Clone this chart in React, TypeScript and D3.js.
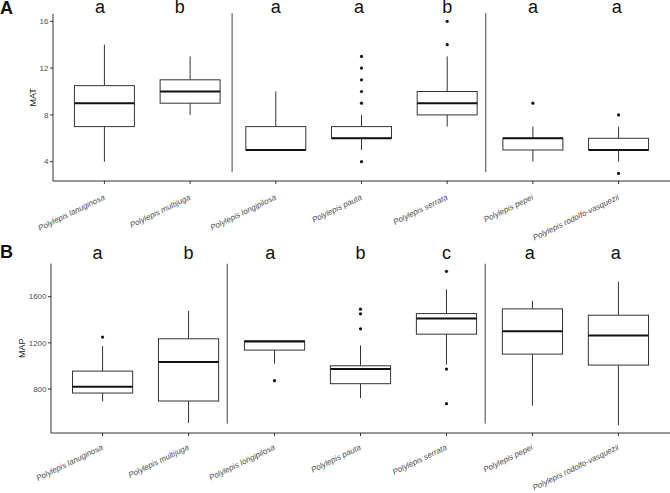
import React from "react";
import * as d3 from "d3";

const species = [
  "Polylepis lanuginosa",
  "Polylepis multijuga",
  "Polylepis longipilosa",
  "Polylepis pauta",
  "Polylepis serrata",
  "Polylepis pepei",
  "Polylepis rodolfo-vasquezii",
];

// Panel A: MAT
const matLow = [4, 8, 5, 5, 7, 4, 4];
const matQ1 = [7, 9, 5, 6, 8, 5, 5];
const matMed = [9, 10, 5, 6, 9, 6, 5];
const matQ3 = [10.5, 11, 7, 7, 10, 6, 6];
const matHigh = [14, 13, 10, 8, 13, 7, 7];
const matOut = [[], [], [], [4, 9, 10, 11, 12, 13], [14, 16], [9], [3, 8]];
const matLetters = ["a", "b", "a", "a", "b", "a", "a"];
const matLetterX = [0.95, 1.88, 3, 3.97, 5, 6, 6.98];
const matTicks = [4, 8, 12, 16];
const matDomain = [2.35, 16.65];
const matSeps = [2.49, 5.45];
const matSepY = [3.1, 16.7];

// Panel B: MAP
const mapLow = [693, 506, 1019, 722, 1010, 656, 486];
const mapQ1 = [765, 696, 1137, 846, 1275, 1102, 1007];
const mapMed = [820, 1033, 1212, 973, 1410, 1301, 1263];
const mapQ3 = [955, 1235, 1217, 1001, 1453, 1494, 1439];
const mapHigh = [1171, 1476, 1217, 1177, 1663, 1563, 1730];
const mapOut = [[1250], [], [872], [1321, 1451, 1491], [673, 973, 1819], [], []];
const mapLetters = ["a", "b", "a", "b", "c", "a", "a"];
const mapLetterX = [0.94, 2, 2.95, 4, 5, 5.97, 6.97];
const mapTicks = [800, 1200, 1600];
const mapDomain = [419, 1886];
const mapSeps = [2.45, 5.45];
const mapSepY = [500, 1885];

const W = 670;
const H = 493;
const FONT = "Liberation Sans, Arial, Helvetica, sans-serif";

type PanelProps = {
  tag: string;
  title: string;
  left: number;
  top: number;
  bottom: number;
  domain: number[];
  ticks: number[];
  low: number[];
  q1: number[];
  med: number[];
  q3: number[];
  high: number[];
  out: number[][];
  letters: string[];
  letterX: number[];
  letterY: number;
  tagY: number;
  seps: number[];
  sepY: number[];
  titleX: number;
  labelDy: number;
};

function Panel(p: PanelProps) {
  const x = d3.scaleLinear().domain([0.4, 7.6]).range([p.left, W]);
  const y = d3.scaleLinear().domain(p.domain).range([p.bottom, p.top]);
  const bw = 0.35;
  const boxStroke = "#333333";
  return (
    <g>
      {p.seps.map((s, i) => (
        <line key={"s" + i} x1={x(s)} x2={x(s)} y1={y(p.sepY[0])} y2={y(p.sepY[1])} stroke="#444" strokeWidth={1} />
      ))}
      {species.map((sp, i) => {
        const c = x(i + 1);
        const l = x(i + 1 - bw);
        const r = x(i + 1 + bw);
        return (
          <g key={sp}>
            <line x1={c} x2={c} y1={y(p.q3[i])} y2={y(p.high[i])} stroke={boxStroke} strokeWidth={1} />
            <line x1={c} x2={c} y1={y(p.q1[i])} y2={y(p.low[i])} stroke={boxStroke} strokeWidth={1} />
            <rect x={l} y={y(p.q3[i])} width={r - l} height={y(p.q1[i]) - y(p.q3[i])} fill="white" stroke={boxStroke} strokeWidth={1} />
            <line x1={l} x2={r} y1={y(p.med[i])} y2={y(p.med[i])} stroke="#111" strokeWidth={2} />
            {p.out[i].map((v, j) => (
              <circle key={j} cx={c} cy={y(v)} r={1.6} fill="#111" />
            ))}
          </g>
        );
      })}
      <line x1={p.left} x2={p.left} y1={p.top} y2={p.bottom} stroke="#333" strokeWidth={1} />
      <line x1={p.left} x2={W} y1={p.bottom} y2={p.bottom} stroke="#333" strokeWidth={1} />
      {p.ticks.map((t) => (
        <g key={t}>
          <line x1={p.left - 3} x2={p.left} y1={y(t)} y2={y(t)} stroke="#333" />
          <text x={p.left - 4.5} y={y(t)} dy="0.35em" textAnchor="end" fontSize={8} fill="#4d4d4d" fontFamily={FONT}>
            {t}
          </text>
        </g>
      ))}
      {species.map((sp, i) => (
        <g key={"xt" + i}>
          <line x1={x(i + 1)} x2={x(i + 1)} y1={p.bottom} y2={p.bottom + 3} stroke="#333" />
          <text
            transform={`translate(${x(i + 1) + 1},${p.bottom + p.labelDy}) rotate(-26)`}
            textAnchor="end"
            fontSize={8}
            fontStyle="italic"
            fill="#4d4d4d"
            fontFamily={FONT}
          >
            {sp}
          </text>
        </g>
      ))}
      <text
        transform={`translate(${p.titleX},${(p.top + p.bottom) / 2}) rotate(-90)`}
        textAnchor="middle"
        fontSize={9}
        fill="#222"
        fontFamily={FONT}
      >
        {p.title}
      </text>
      {p.letters.map((l, i) => (
        <text key={"l" + i} x={x(p.letterX[i])} y={p.letterY} textAnchor="middle" fontSize={18} fill="#111" fontFamily={FONT}>
          {l}
        </text>
      ))}
      <text x={0} y={p.tagY} fontSize={18} fontWeight="bold" fill="#111" fontFamily={FONT}>
        {p.tag}
      </text>
    </g>
  );
}

export default function App() {
  return (
    <svg width={W} height={H} style={{ position: "absolute", left: 0, top: 0, background: "white" }}>
      <rect width={W} height={H} fill="white" />
      <Panel
        tag="A"
        title="MAT"
        left={53}
        top={13.7}
        bottom={181}
        domain={matDomain}
        ticks={matTicks}
        low={matLow}
        q1={matQ1}
        med={matMed}
        q3={matQ3}
        high={matHigh}
        out={matOut}
        letters={matLetters}
        letterX={matLetterX}
        letterY={13}
        tagY={14}
        seps={matSeps}
        sepY={matSepY}
        titleX={36}
        labelDy={18}
      />
      <Panel
        tag="B"
        title="MAP"
        left={51}
        top={263.6}
        bottom={433}
        domain={mapDomain}
        ticks={mapTicks}
        low={mapLow}
        q1={mapQ1}
        med={mapMed}
        q3={mapQ3}
        high={mapHigh}
        out={mapOut}
        letters={mapLetters}
        letterX={mapLetterX}
        letterY={259}
        tagY={258}
        seps={mapSeps}
        sepY={mapSepY}
        titleX={24.5}
        labelDy={16}
      />
    </svg>
  );
}
